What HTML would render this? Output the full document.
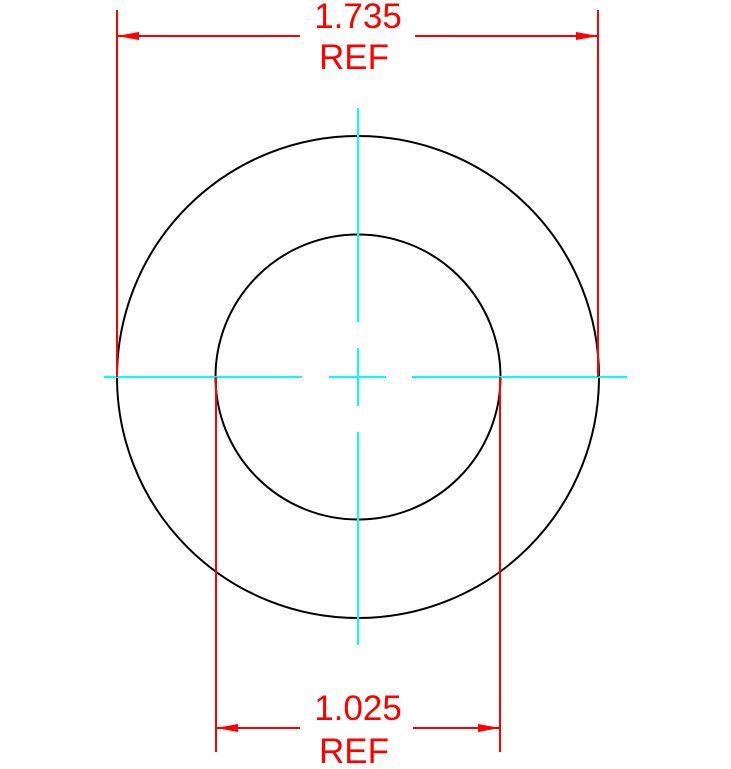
<!DOCTYPE html>
<html><head><style>html,body{margin:0;padding:0;background:#fff}</style></head>
<body>
<svg width="731" height="764" viewBox="0 0 731 764" xmlns="http://www.w3.org/2000/svg">
<g fill="none" stroke="#000" stroke-width="2">
<circle cx="358" cy="377" r="241"/>
<circle cx="358" cy="377" r="142.5"/>
</g>
<g stroke="#00ffff" stroke-width="2">
<line x1="104" y1="377" x2="302" y2="377"/>
<line x1="329" y1="377" x2="386" y2="377"/>
<line x1="412" y1="377" x2="627" y2="377"/>
<line x1="358" y1="108" x2="358" y2="322"/>
<line x1="358" y1="348" x2="358" y2="406"/>
<line x1="358" y1="432" x2="358" y2="645"/>
</g>
<g stroke="#ff0000" stroke-width="2">
<line x1="117" y1="10" x2="117" y2="377"/>
<line x1="598" y1="10" x2="598" y2="377"/>
<line x1="117" y1="36" x2="300" y2="36"/>
<line x1="415" y1="36" x2="598" y2="36"/>
<line x1="216" y1="377" x2="216" y2="752"/>
<line x1="500" y1="377" x2="500" y2="752"/>
<line x1="216" y1="728" x2="300" y2="728"/>
<line x1="413" y1="728" x2="500" y2="728"/>
</g>
<g fill="#ff0000">
<polygon points="117,36 139,32 139,40"/>
<polygon points="598,36 576,32 576,40"/>
<polygon points="216,728 238,724 238,732"/>
<polygon points="500,728 478,724 478,732"/>
</g>
<g fill="#ff0000" font-family="Liberation Sans, sans-serif" font-size="35" text-anchor="middle">
<text x="358" y="28">1.735</text>
<text x="354" y="69">REF</text>
<text x="358" y="720">1.025</text>
<text x="354" y="763">REF</text>
</g>
</svg>
</body></html>
